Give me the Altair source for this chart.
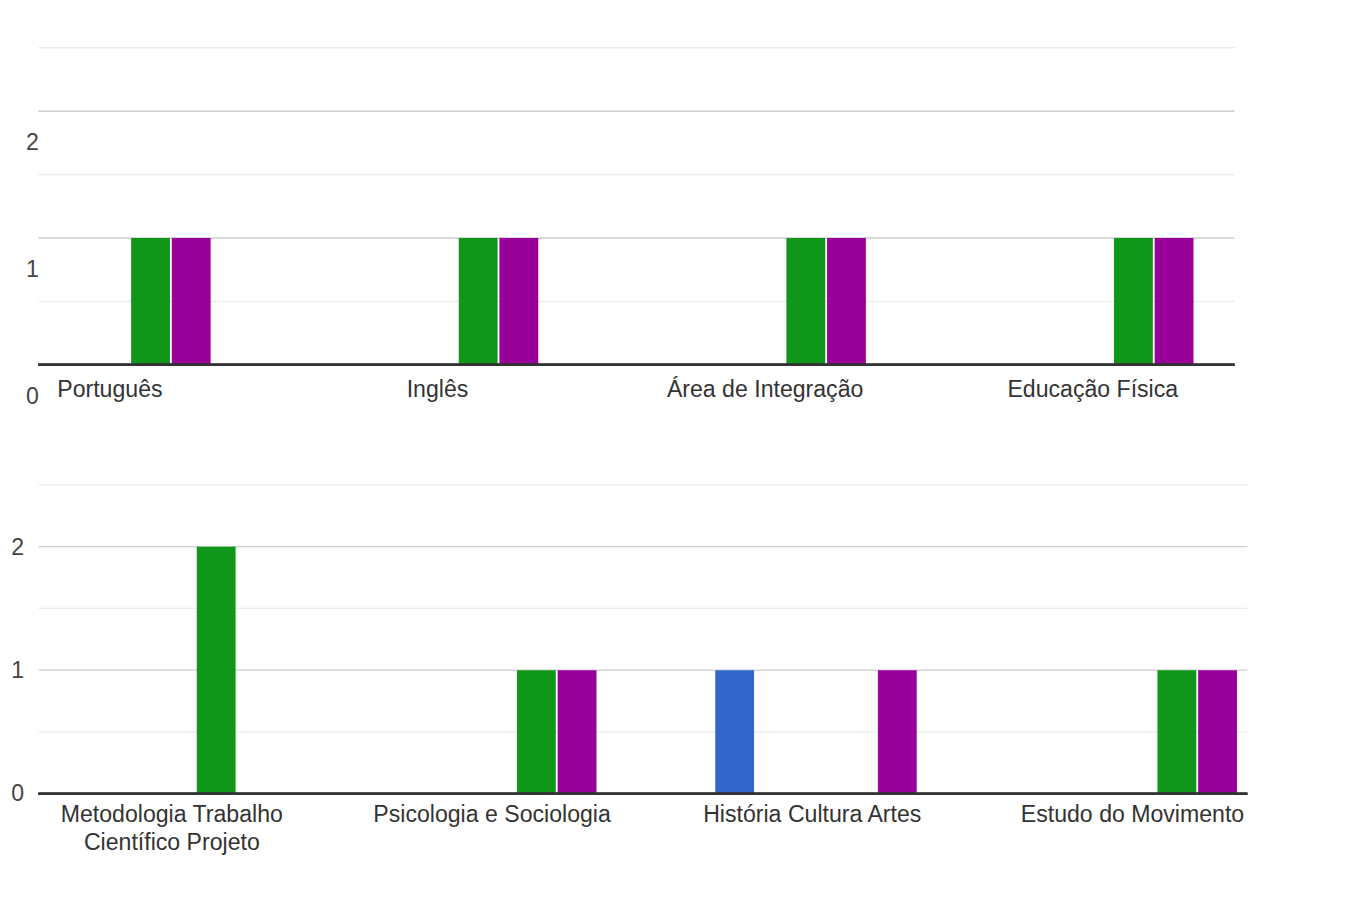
import altair as alt
import pandas as pd

series = ["Série 1", "Série 2", "Série 3", "Série 4", "Série 5"]
colors = ["#3366CC", "#DC3912", "#FF9900", "#109618", "#990099"]

top_categories = ["Português", "Inglês", "Área de Integração", "Educação Física"]
top_s1 = [0, 0, 0, 0]
top_s2 = [0, 0, 0, 0]
top_s3 = [0, 0, 0, 0]
top_s4 = [1, 1, 1, 1]
top_s5 = [1, 1, 1, 1]

bottom_categories = ["Metodologia Trabalho Científico Projeto", "Psicologia e Sociologia",
                     "História Cultura Artes", "Estudo do Movimento"]
bottom_s1 = [0, 0, 1, 0]
bottom_s2 = [0, 0, 0, 0]
bottom_s3 = [0, 0, 0, 0]
bottom_s4 = [2, 1, 0, 1]
bottom_s5 = [0, 1, 1, 1]

y_grid = [0, 0.5, 1, 1.5, 2, 2.5]
y_labels = [0, 1, 2]

FONT = "Liberation Sans"


def long_df(cats, cols):
    rows = []
    for s, vals in zip(series, cols):
        for c, v in zip(cats, vals):
            rows.append({"categoria": c, "serie": s, "valor": v})
    return pd.DataFrame(rows)


top_df = long_df(top_categories, [top_s1, top_s2, top_s3, top_s4, top_s5])
bottom_df = long_df(bottom_categories, [bottom_s1, bottom_s2, bottom_s3, bottom_s4, bottom_s5])
grid_df = pd.DataFrame({"v": y_grid})

wrap_expr = ("datum.label == 'Metodologia Trabalho Científico Projeto' ? "
             "['Metodologia Trabalho', 'Científico Projeto'] : datum.label")


def panel(df, cats, width, height, xrange, subrange, subpad, ylab_offset, ylab_pad, yext,
          xlab_pad, line_h):
    yscale = alt.Scale(domain=[0, 2.5], nice=False)
    grid = alt.Chart(grid_df).mark_rule(strokeWidth=1.5).encode(
        y=alt.Y("v:Q", scale=yscale),
        color=alt.condition("datum.v % 1 === 0", alt.value("#cccccc"), alt.value("#ebebeb")),
    )
    bars = alt.Chart(df).mark_bar(clip=True).encode(
        x=alt.X("categoria:N", sort=cats,
                scale=alt.Scale(domain=cats, range=xrange, paddingInner=0, paddingOuter=0),
                axis=alt.Axis(title=None, domain=False, ticks=False, labelAngle=0,
                              labelFontSize=25, labelColor="#333333", labelFont=FONT,
                              labelPadding=xlab_pad, labelLimit=500, labelLineHeight=line_h,
                              labelExpr=wrap_expr)),
        xOffset=alt.XOffset("serie:N", sort=series,
                            scale=alt.Scale(domain=series, range=subrange,
                                            paddingInner=subpad, paddingOuter=0)),
        y=alt.Y("valor:Q", scale=yscale,
                axis=alt.Axis(title=None, values=y_labels, domain=False, ticks=False, grid=False,
                              labelExpr="'' + datum.value",
                              labelFontSize=25, labelColor="#444444", labelFont=FONT,
                              labelOffset=ylab_offset, labelPadding=ylab_pad,
                              minExtent=yext, maxExtent=yext)),
        color=alt.Color("serie:N", scale=alt.Scale(domain=series, range=colors), legend=None),
    )
    baseline = alt.Chart(grid_df).mark_rule(color="#333333", strokeWidth=2).encode(y=alt.datum(0))
    return alt.layer(grid, bars, baseline).resolve_scale(color="independent").properties(
        width=width, height=height)


top = panel(top_df, top_categories, 1294, 343, [-100, 1318], [68.25, 286.25], 0.045,
            34, 0, 33, 14, 33)
bottom = panel(bottom_df, bottom_categories, 1308, 334, [-29, 1357], [66.75, 279.75], 0.0465,
               0, 16, 33, 10, 30)

chart = alt.vconcat(top, bottom, spacing=82).properties(
    padding={"left": 0, "top": 6, "right": 0, "bottom": 0}
).configure_view(stroke=None).configure_axis(labelFont=FONT)

chart.save("out.html", embed_options={"renderer": "svg", "actions": False})
